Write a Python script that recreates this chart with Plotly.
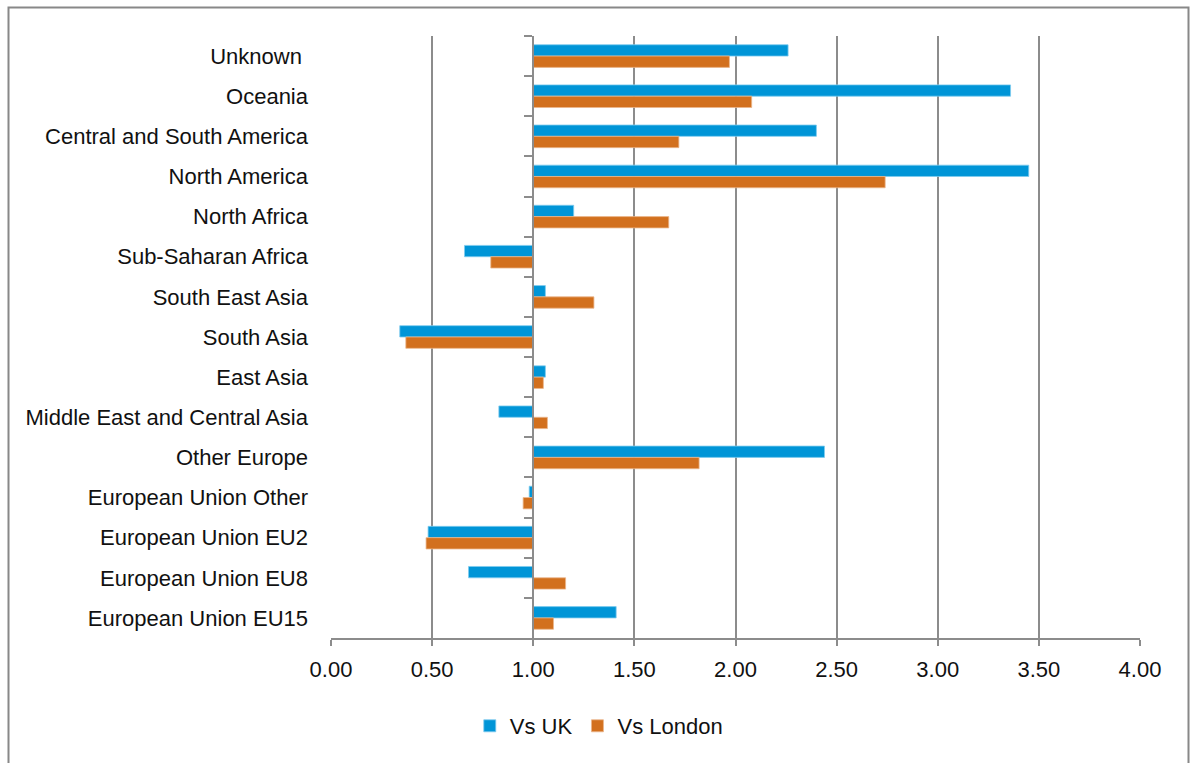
import plotly.graph_objects as go

# Region labels, top to bottom
regions = [
    "Unknown\u00a0",
    "Oceania",
    "Central and South America",
    "North America",
    "North Africa",
    "Sub-Saharan Africa",
    "South East Asia",
    "South Asia",
    "East Asia",
    "Middle East and Central Asia",
    "Other Europe",
    "European Union Other",
    "European Union EU2",
    "European Union EU8",
    "European Union EU15",
]

# Ratios relative to the UK and to London (bars start at 1.00)
vs_uk = [2.26, 3.36, 2.40, 3.45, 1.20, 0.66, 1.06, 0.34, 1.06, 0.83, 2.44, 0.98, 0.48, 0.68, 1.41]
vs_london = [1.97, 2.08, 1.72, 2.74, 1.67, 0.79, 1.30, 0.37, 1.05, 1.07, 1.82, 0.95, 0.47, 1.16, 1.10]

x_ticks = [0.0, 0.5, 1.0, 1.5, 2.0, 2.5, 3.0, 3.5, 4.0]
x_tick_labels = [f"{v:.2f}" for v in x_ticks]

BASE = 1.0
BLUE = "#0095D7"
ORANGE = "#D2701E"
GRID = "#8C8C8C"
FONT = "Liberation Sans, Arial, sans-serif"
FS = 22

W, H = 1193, 763
L, R, T, B = 331, 53, 36, 125
pw, ph = W - L - R, H - T - B

fig = go.Figure()
fig.add_trace(go.Bar(
    y=regions, x=[v - BASE for v in vs_uk], base=BASE, orientation="h",
    name="Vs UK", marker=dict(color=BLUE, line=dict(color="#7FCBEF", width=0.8)),
))
fig.add_trace(go.Bar(
    y=regions, x=[v - BASE for v in vs_london], base=BASE, orientation="h",
    name="Vs London", marker=dict(color=ORANGE, line=dict(color="#EBB68C", width=0.8)),
))
# invisible trace that carries the categories for the axis drawn at 1.00
fig.add_trace(go.Scatter(
    y=regions, x=[BASE] * len(regions), yaxis="y2", mode="markers",
    marker=dict(opacity=0), showlegend=False, hoverinfo="skip",
))

x_min, x_max = x_ticks[0], x_ticks[-1]
axis_pos = (BASE - x_min) / (x_max - x_min)
y_range = [len(regions) - 0.5, -0.5]

fig.update_layout(
    width=W, height=H,
    margin=dict(l=L, r=R, t=T, b=B),
    paper_bgcolor="white", plot_bgcolor="white",
    barmode="group", bargap=0.436, bargroupgap=0,
    font=dict(family=FONT, size=FS, color="#111111"),
    xaxis=dict(
        range=[x_min, x_max], tickvals=x_ticks, ticktext=x_tick_labels,
        showgrid=True, gridcolor=GRID, gridwidth=2,
        showline=True, linecolor=GRID, linewidth=2,
        ticks="outside", ticklen=6, tickcolor=GRID, tickwidth=2,
        zeroline=False, ticklabelstandoff=5,
        tickfont=dict(family=FONT, size=FS, color="#111111"),
    ),
    yaxis=dict(
        type="category", categoryorder="array", categoryarray=regions,
        range=y_range, autorange=False,
        showgrid=False, zeroline=False, showline=False,
        ticks="", ticklabelstandoff=22,
        tickfont=dict(family=FONT, size=FS, color="#111111"),
    ),
    yaxis2=dict(
        type="category", categoryorder="array", categoryarray=regions,
        overlaying="y", matches="y", anchor="free", position=axis_pos, side="left",
        range=y_range, autorange=False,
        showgrid=False, zeroline=False, showticklabels=False,
        showline=True, linecolor=GRID, linewidth=2,
        ticks="outside", ticklen=8, tickcolor=GRID, tickwidth=2, tickson="boundaries",
    ),
    legend=dict(
        orientation="h", x=0.331, xanchor="center", y=(638 - 726) / ph,
        yanchor="middle", traceorder="normal",
        font=dict(family=FONT, size=FS, color="#111111"), itemwidth=30,
    ),
    showlegend=True,
)

# chart frame
fx0 = (8.5 - L) / pw
fx1 = (1188.5 - L) / pw
fy1 = (H - B - 7.5) / ph
fy0 = (H - B - 775) / ph
fig.add_shape(type="rect", xref="paper", yref="paper", x0=fx0, x1=fx1, y0=fy0, y1=fy1,
              line=dict(color="#888888", width=2), fillcolor="rgba(0,0,0,0)", layer="below")

fig.write_html("out.html")
